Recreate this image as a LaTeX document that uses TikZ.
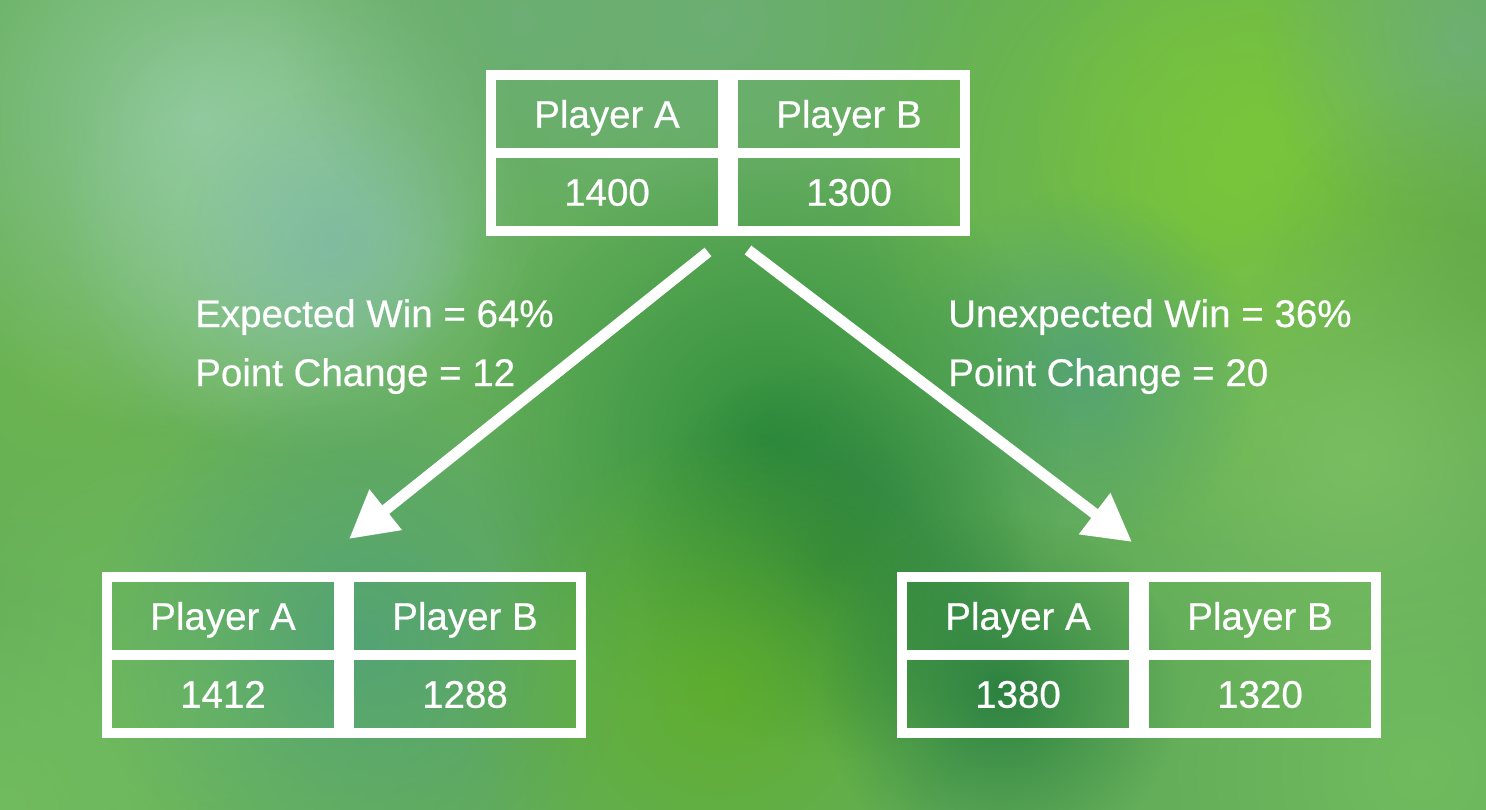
\documentclass[tikz,border=0pt]{standalone}
\usepackage{fontspec}
\setmainfont{Liberation Sans}
\newfontfamily\lblfont{Liberation Sans}[FakeBold=0.5]
\usetikzlibrary{arrows.meta,fadings}

\tikzfading[name=blob, inner color=transparent!15, outer color=transparent!100]

\definecolor{bgbase}{RGB}{100,174,90}
\definecolor{paleteal}{RGB}{150,205,165}
\definecolor{softteal}{RGB}{125,185,160}
\definecolor{leafgreen}{RGB}{110,182,80}
\definecolor{mossgreen}{RGB}{115,190,95}
\definecolor{tealcell}{RGB}{80,160,120}
\definecolor{deepgreen}{RGB}{40,138,55}
\definecolor{darkgreen}{RGB}{35,122,60}
\definecolor{limegreen}{RGB}{122,198,58}
\definecolor{grassgreen}{RGB}{95,175,40}
\definecolor{greyteal}{RGB}{110,175,120}
\definecolor{midgreen}{RGB}{100,168,70}
\definecolor{lightgreen}{RGB}{125,192,100}

\begin{document}
\begin{tikzpicture}[x=1pt,y=-1pt,
	cell/.style={draw=white, line width=10pt, minimum width=232pt, minimum height=78pt,
		inner sep=0pt, text=white, font=\fontsize{38.5}{46}\lblfont,
		text height=27.5pt, text depth=0pt},
	lbl/.style={anchor=base west, inner sep=0pt, text=white,
		font=\fontsize{38.5}{46}\lblfont},
	bigarrow/.style={white, line width=11pt, -{Triangle[length=47pt,width=49pt]}},
	blob/.style={path fading=blob}]
	\useasboundingbox (0,0) rectangle (1486,810);
	\begin{scope}
	\clip (0,0) rectangle (1486,810);
	\fill[bgbase] (0,0) rectangle (1486,810);
	\fill[leafgreen, blob] (60,380) circle (270);
	\fill[mossgreen, blob] (200,700) circle (300);
	\fill[mossgreen, blob] (0,810) circle (230);
	\fill[paleteal, blob] (200,120) circle (320);
	\fill[paleteal, blob] (300,220) circle (240);
	\fill[softteal, blob] (330,240) circle (150);
	\fill[greyteal, blob] (520,20) circle (240);
	\fill[tealcell, blob] (360,640) circle (270);
	\fill[greyteal, blob] (720,20) circle (260);
	\fill[limegreen, blob] (1230,180) circle (380);
	\fill[limegreen, blob] (1260,130) circle (240);
	\fill[greyteal, blob] (1460,40) circle (200);
	\fill[midgreen, blob] (1470,300) circle (220);
	\fill[lightgreen, blob] (1360,460) circle (260);
	\fill[tealcell, blob] (1080,370) circle (180);
	\fill[deepgreen, blob] (770,440) circle (300);
	\fill[darkgreen, blob] (830,560) circle (200);
	\fill[grassgreen, blob] (720,690) circle (260);
	\fill[darkgreen, blob] (1000,690) circle (180);
	\fill[mossgreen, blob] (1420,770) circle (260);
	\end{scope}

	\node[cell] (topA) at (607,114) {Player A};
	\node[cell] (topAval) at (607,192) {1400};
	\node[cell] (topB) at (849,114) {Player B};
	\node[cell] (topBval) at (849,192) {1300};

	\node[cell] (leftA) at (223,616) {Player A};
	\node[cell] (leftAval) at (223,694) {1412};
	\node[cell] (leftB) at (465,616) {Player B};
	\node[cell] (leftBval) at (465,694) {1288};

	\node[cell] (rightA) at (1018,616) {Player A};
	\node[cell] (rightAval) at (1018,694) {1380};
	\node[cell] (rightB) at (1260,616) {Player B};
	\node[cell] (rightBval) at (1260,694) {1320};

	\node[lbl] (winL) at (195,327) {Expected Win = 64\%};
	\node[lbl] (chgL) at (195,386) {Point Change = 12};
	\node[lbl] (winR) at (948,327) {Unexpected Win = 36\%};
	\node[lbl] (chgR) at (948,386) {Point Change = 20};

	\coordinate (fromL) at (708,252);
	\coordinate (toL) at (349,539);
	\coordinate (fromR) at (748,250);
	\coordinate (toR) at (1132,542);
	\draw[bigarrow] (fromL) -- (toL);
	\draw[bigarrow] (fromR) -- (toR);
\end{tikzpicture}
\end{document}
